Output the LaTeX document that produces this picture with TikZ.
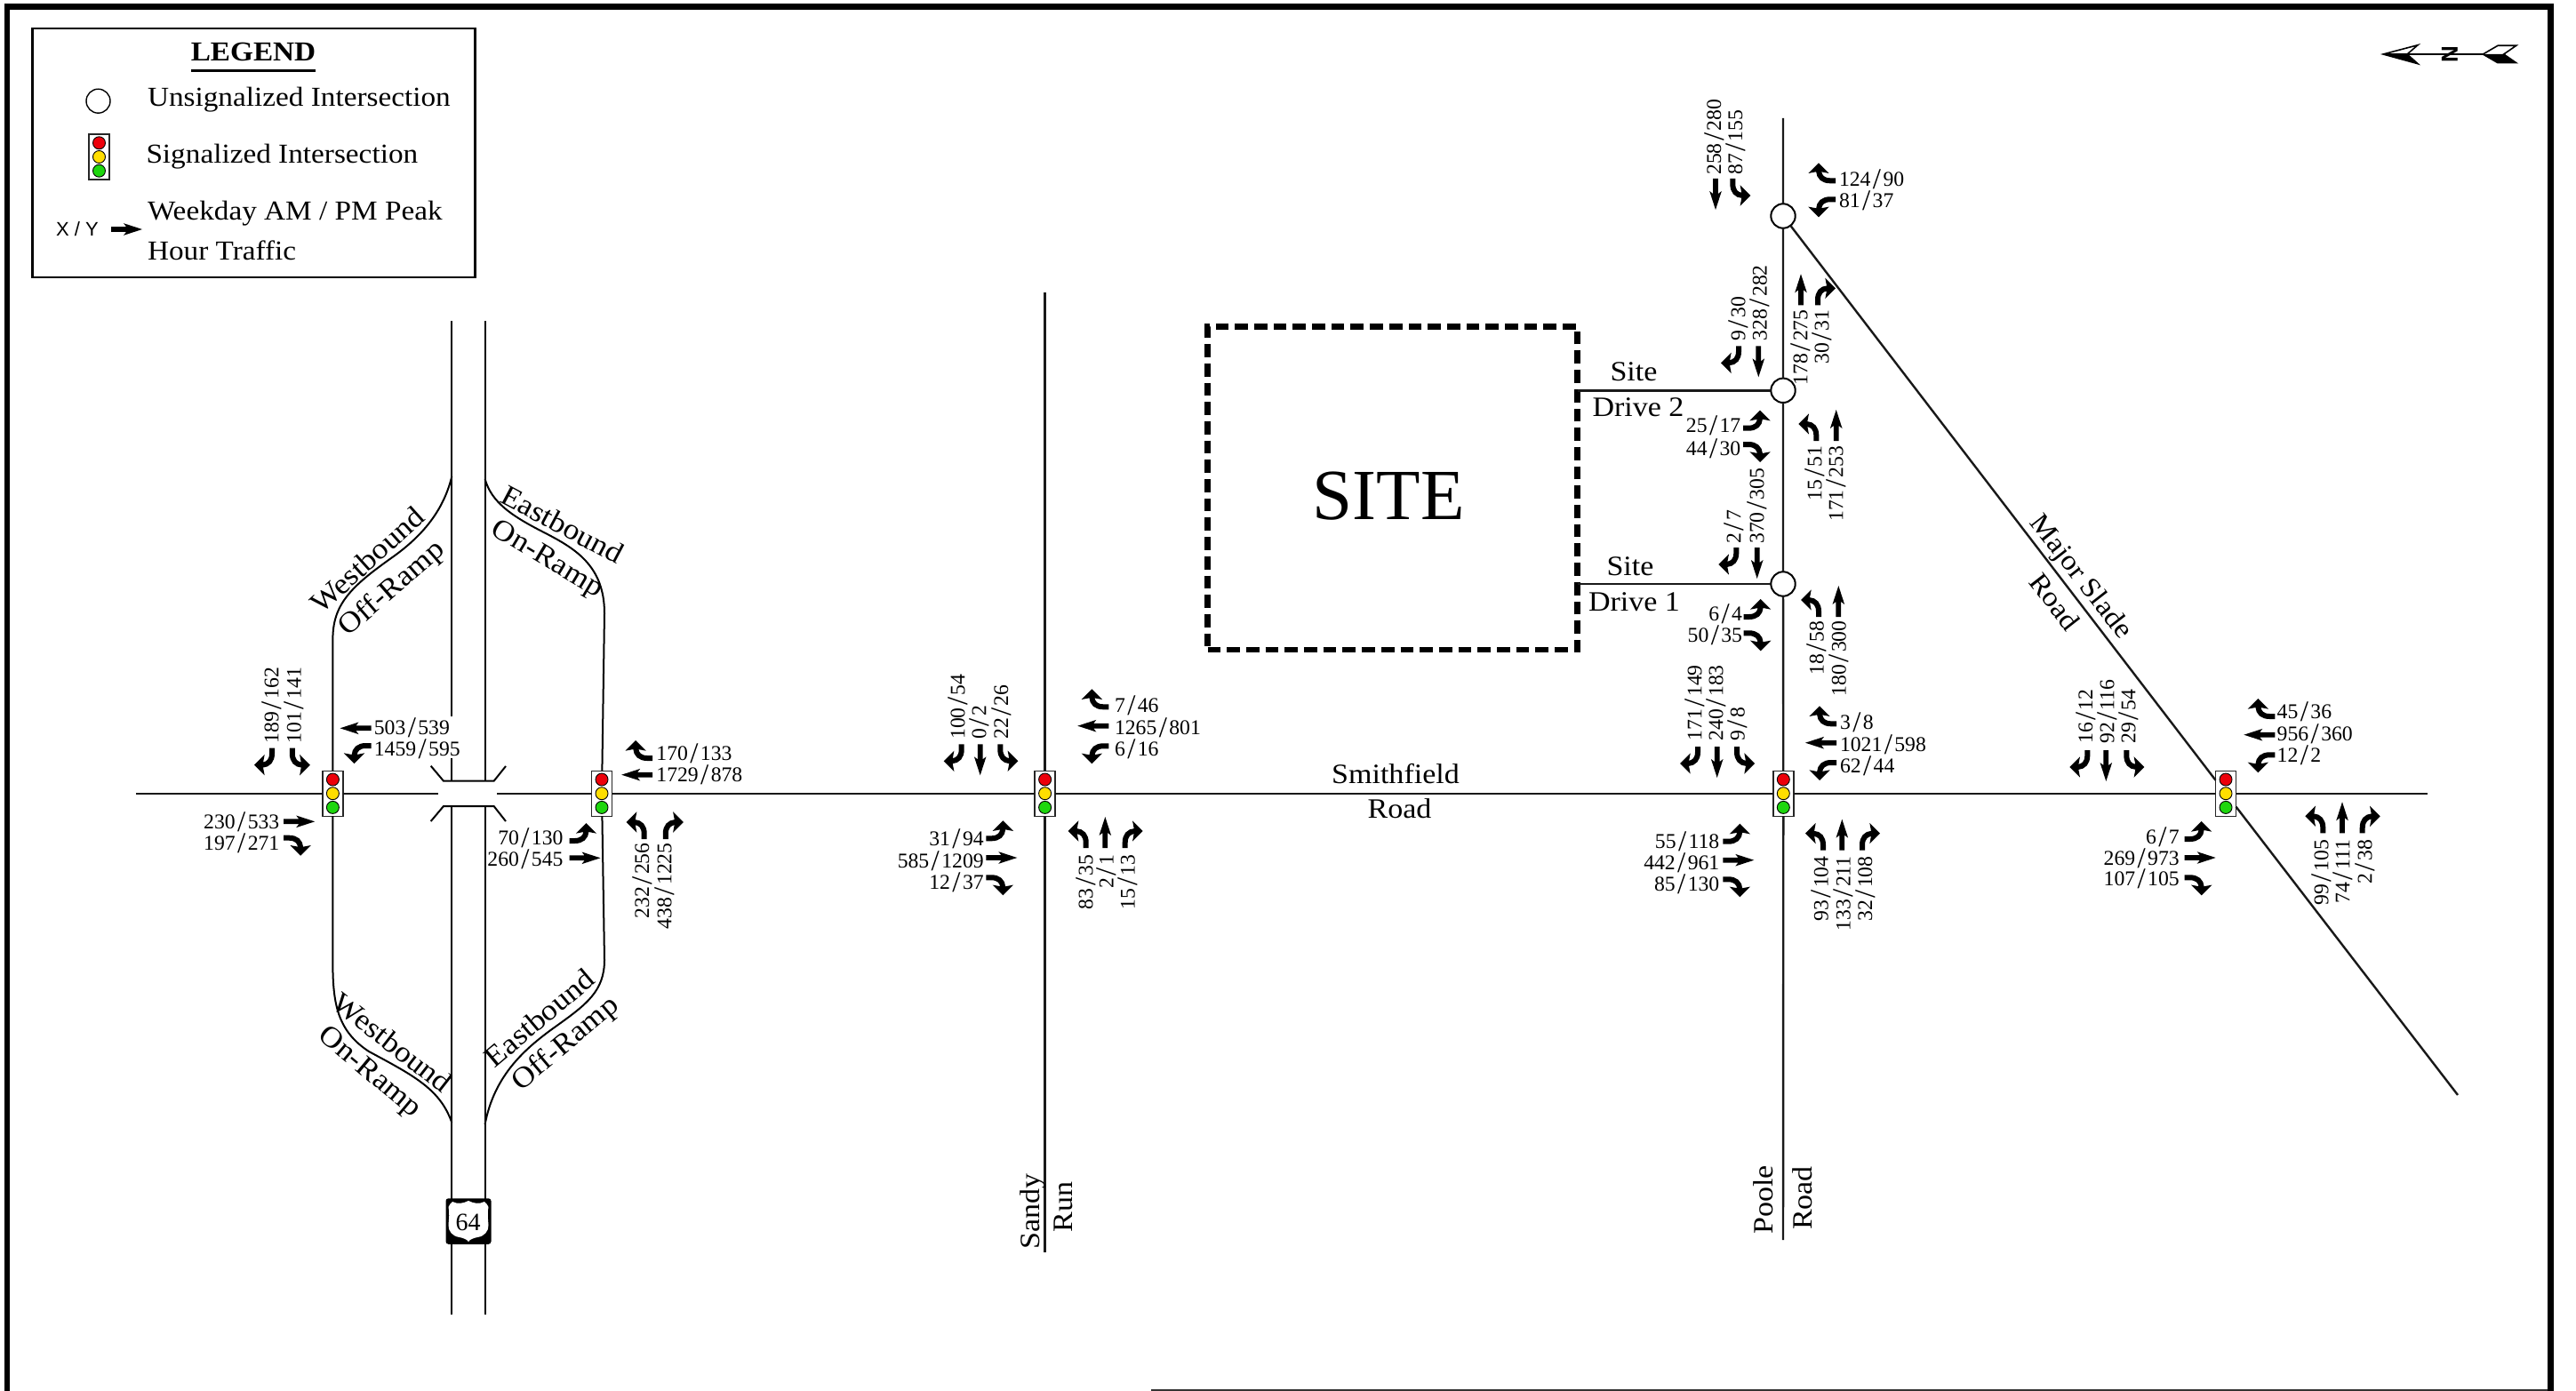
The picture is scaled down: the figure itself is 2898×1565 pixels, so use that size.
\documentclass[tikz,border=0pt]{standalone}
\usepackage{fontspec}
\setmainfont{Liberation Serif}[FakeStretch=1.08]
\newfontfamily\numf{Liberation Serif}
\newfontfamily\sansf{Liberation Sans}
\definecolor{sigred}{RGB}{236,0,10}
\definecolor{sigyel}{RGB}{255,222,0}
\definecolor{siggrn}{RGB}{30,214,14}
\newcounter{lab}
\def\splitq#1/#2\relax{#1\kern2.4pt\raisebox{-3pt}{\fontsize{33}{33}\selectfont /}\kern2.4pt#2}
\tikzset{
  numlab/.style={inner sep=0pt,outer sep=0pt,font=\numf\fontsize{23.7}{26}\selectfont},
  wordlab/.style={inner sep=0pt,outer sep=0pt,font=\fontsize{31.5}{34}\selectfont},
  ramplab/.style={inner sep=0pt,outer sep=0pt,font=\fontsize{33}{36}\selectfont},
  legtext/.style={inner sep=0pt,outer sep=0pt,anchor=base west,font=\fontsize{30.8}{33}\selectfont},
  sigbox/.style={draw=black!85,fill=white,line width=1.4pt,minimum width=23pt,minimum height=51pt,inner sep=0pt,outer sep=0pt},
  lamp/.style={draw=black,line width=0.9pt},
  unsig/.style={circle,draw=black,fill=white,line width=2pt,minimum size=27.4pt,inner sep=0pt,outer sep=0pt},
  road/.style={draw=black!90,line width=2.4pt},
  ramp/.style={draw=black,line width=2pt}
}
% labels (baseline anchored)
\newcommand\LR[3]{\stepcounter{lab}\node[numlab,anchor=base west,name=n\thelab] at (#1,#2) {\splitq#3\relax};}
\newcommand\RR[3]{\stepcounter{lab}\node[numlab,anchor=base east,name=n\thelab] at (#1,#2) {\splitq#3\relax};}
\newcommand\UP[3]{\stepcounter{lab}\node[numlab,rotate=90,anchor=base west,name=n\thelab] at (#1,#2) {\splitq#3\relax};}
\newcommand\DN[3]{\stepcounter{lab}\node[numlab,rotate=90,anchor=base east,name=n\thelab] at (#1,#2) {\splitq#3\relax};}
% movement arrows: tail at (x,y), direction rot (0 north, 90 west, 180 south, -90 east)
\newcommand\ArT[3]{\fill[shift={(#1,#2)},rotate=#3] (-2.9,0) -- (-2.9,-17) -- (-6.8,-14) -- (0,-35) -- (6.8,-14) -- (2.9,-17) -- (2.9,0) -- cycle;}
\newcommand\turnshape{\draw[line width=6pt] (0,0) -- (0,-6) .. controls (0,-14) and (-4,-18.5) .. (-11,-19);
  \fill (-20,-19) -- (-8.3,-30.7) -- (-10.5,-19) -- (-8.3,-7.3) -- cycle;}
\newcommand\ArL[3]{\begin{scope}[shift={(#1,#2)},rotate=#3]\turnshape\end{scope}}
\newcommand\ArR[3]{\begin{scope}[shift={(#1,#2)},rotate=#3,xscale=-1]\turnshape\end{scope}}
\newcommand\Sig[3]{\node[sigbox] (#1) at (#2,#3) {};
  \draw[lamp,fill=sigred] (#2,#3) ++(0,-15.7) circle[radius=7];
  \draw[lamp,fill=sigyel] (#2,#3) circle[radius=7];
  \draw[lamp,fill=siggrn] (#2,#3) ++(0,15.7) circle[radius=7];}
\begin{document}
\begin{tikzpicture}[x=1pt,y=-1pt]
\useasboundingbox (0,0) rectangle (2898,1565);
\fill[white] (0,0) rectangle (2898,1565);
% sheet border
\draw[line width=6.8pt,miter limit=10] (8,1565) -- (8,7.5) -- (2869.5,7.5) -- (2869.5,1565);
\draw[line width=2.5pt,black!80] (1295,1563.8) -- (2866,1563.8);
% legend
\node[draw=black,line width=2.6pt,minimum width=498pt,minimum height=280pt,inner sep=0pt,outer sep=0pt] (legend) at (285.5,172) {};
\node[legtext,anchor=base,font=\bfseries\fontsize{30.8}{33}\selectfont] (legtitle) at (285,69) {LEGEND};
\draw[line width=2.5pt] (215,79.5) -- (355,79.5);
\node[unsig,minimum size=27pt,line width=1.4pt] (legcirc) at (110.5,113.7) {};
\node[legtext] (legu) at (166,120) {Unsignalized Intersection};
\Sig{legsig}{111.5}{176.5}
\node[legtext] (legs) at (164.5,184) {Signalized Intersection};
\node[legtext] (legw) at (166,247) {Weekday AM / PM Peak};
\node[legtext] (legh) at (166,292) {Hour Traffic};
\node[inner sep=0pt,font=\sansf\fontsize{22}{24}\selectfont] (legxy) at (87,258) {X / Y};
\ArT{125}{258}{-90}
% north arrow
\coordinate (nTip) at (2681,61);
\coordinate (nTail) at (2793.3,61);
\draw[line width=1.6pt] (nTip) -- (nTail);
\fill (2681,61) -- (2720,71.7) -- (2708,61) -- cycle;
\draw[line width=1.6pt,line join=miter] (2681,61) -- (2720,50.7) -- (2708,61) -- (2720,71.7) -- cycle;
\fill (2793.3,61) -- (2810,70.7) -- (2830.7,70.7) -- (2816.7,61) -- cycle;
\draw[line width=1.6pt] (2793.3,61) -- (2810,51.3) -- (2830.7,51.3) -- (2816.7,61) -- (2830.7,70.7) -- (2810,70.7) -- cycle;
\node[inner sep=0pt,rotate=90,font=\sansf\bfseries\fontsize{26}{28}\selectfont] (north) at (2756,61) {N};
% signals and unsignalized intersections
\Sig{sA}{374.4}{892.7}
\Sig{sB}{677}{892.7}
\Sig{sC}{1175.6}{892.7}
\Sig{sD}{2006.3}{892.7}
\Sig{sE}{2504}{892.7}
\node[unsig] (c1) at (2006,243) {};
\node[unsig] (c2) at (2006,439.3) {};
\node[unsig] (c3) at (2006,657) {};
% site
\node[draw=black,line width=6.8pt,dash pattern=on 14.7pt off 7pt,minimum width=416pt,minimum height=363.5pt,inner sep=0pt,outer sep=0pt] (site) at (1566.5,549.2) {};
\node[inner sep=0pt,font=\numf\fontsize{81}{90}\selectfont] (sitetxt) at (1562,558) {SITE};
% road ends
\coordinate (smW) at (153,892.7);
\coordinate (brWe) at (492.5,892.7);
\coordinate (brEe) at (559,892.7);
\coordinate (smE) at (2730.5,892.7);
\coordinate (srN) at (1175.6,329);
\coordinate (srS) at (1175.6,1409);
\coordinate (pN) at (2006,133);
\coordinate (pS) at (2006,1395);
\coordinate (msE) at (2765,1232);
\coordinate (fwLt) at (508.3,361);
\coordinate (fwLg) at (508.3,806);
\coordinate (fwLh) at (508.3,853);
\coordinate (fwLb) at (508.3,878.7);
\coordinate (fwLc) at (508.3,907);
\coordinate (fwLe) at (508.3,1479);
\coordinate (fwRt) at (545.6,361);
\coordinate (fwRb) at (545.6,878.7);
\coordinate (fwRc) at (545.6,907);
\coordinate (fwRe) at (545.6,1479);
% roads
\draw[road] (smW) -- (sA) -- (brWe);
\draw[road] (brEe) -- (sB) -- (sC) -- (sD) -- (sE) -- (smE);
\draw[road] (srN) -- (sC) -- (srS);
\draw[road] (pN) -- (c1) -- (c2) -- (c3) -- (sD) -- (pS);
\draw[road] (c1) -- (sE) -- (msE);
\draw[road] (site.east |- c2) -- (c2);
\draw[road] (site.east |- c3) -- (c3);
% freeway and bridge
\draw[ramp] (fwLt) -- (fwLg);
\draw[ramp] (fwLh) -- (fwLb);
\draw[ramp] (fwLc) -- (fwLe);
\draw[ramp] (fwRt) -- (fwRb);
\draw[ramp] (fwRc) -- (fwRe);
\draw[ramp] (484.7,861.7) -- (499,878.7) -- (555.6,878.7) -- (569,862);
\draw[ramp] (484.7,924) -- (499,907) -- (555.6,907) -- (569,924);
% ramps
\draw[ramp] (sA) -- (374.4,720) .. controls (374,680) and (395,660) .. (440,628) .. controls (480,600) and (500,570) .. (508.3,536);
\draw[ramp] (sA) -- (374.4,1080) .. controls (374,1130) and (380,1160) .. (415,1183) .. controls (465,1210) and (495,1225) .. (508.3,1263);
\draw[ramp] (sB) -- (680,690) .. controls (680,635) and (645,616) .. (610,598) .. controls (575,580) and (553,565) .. (545.6,539);
\draw[ramp] (sB) -- (680,1080) .. controls (680,1115) and (660,1130) .. (625,1155) .. controls (590,1180) and (556,1210) .. (545.6,1265);
% shield
\node[fill=black,rounded corners=3pt,minimum width=51pt,minimum height=51.5pt,inner sep=0pt] (shield) at (527,1374) {};
\fill[white] (527,1351) .. controls (521,1354) and (515,1355) .. (509,1352) .. controls (506,1354) and (506,1356) .. (504.5,1358) .. controls (506,1364) and (505,1372) .. (504.5,1378) .. controls (504,1385) and (509,1391) .. (517,1392) .. controls (521,1393) and (525,1394) .. (527,1397) .. controls (529,1394) and (533,1393) .. (537,1392) .. controls (545,1391) and (550,1385) .. (549.5,1378) .. controls (549,1372) and (548,1364) .. (549.5,1358) .. controls (548,1356) and (548,1354) .. (545,1352) .. controls (539,1355) and (533,1354) .. (527,1351) -- cycle;
\node[numlab,font=\numf\fontsize{28}{30}\selectfont] (shield64) at (526.7,1375) {64};
% road names
\node[wordlab,anchor=base] (t1) at (1838,428.3) {Site};
\node[wordlab,anchor=base] (t2) at (1843,468.3) {Drive 2};
\node[wordlab,anchor=base] (t3) at (1834,647.3) {Site};
\node[wordlab,anchor=base] (t4) at (1838.5,687.3) {Drive 1};
\node[wordlab,anchor=base] (t5) at (1570,881.5) {Smithfield};
\node[wordlab,anchor=base] (t6) at (1574.5,920) {Road};
\node[wordlab,anchor=base,rotate=90] (t7) at (1169,1363) {Sandy};
\node[wordlab,anchor=base,rotate=90] (t8) at (1206.7,1358) {Run};
\node[wordlab,anchor=base,rotate=90] (t9) at (1994,1350) {Poole};
\node[wordlab,anchor=base,rotate=90] (t10) at (2038,1348) {Road};
\node[ramplab,rotate=42] (t11) at (413,630) {Westbound};
\node[ramplab,rotate=41] (t12) at (441.7,663) {Off-Ramp};
\node[ramplab,rotate=-28] (t13) at (633,590) {Eastbound};
\node[ramplab,rotate=-31] (t14) at (615,630) {On-Ramp};
\node[ramplab,rotate=-38] (t15) at (441.7,1173) {Westbound};
\node[ramplab,rotate=-40] (t16) at (415,1207) {On-Ramp};
\node[ramplab,rotate=40] (t17) at (606.7,1145) {Eastbound};
\node[ramplab,rotate=40] (t18) at (636.7,1175) {Off-Ramp};
\node[wordlab,rotate=-52] (t19) at (2340,650) {Major Slade};
\node[wordlab,rotate=-52] (t20) at (2311.7,676.7) {Road};
% intersection A
\UP{313.4}{836}{189/162}
\UP{338.7}{836}{101/141}
\ArR{306}{841.7}{180}
\ArL{328.8}{841.7}{180}
\LR{420.8}{826}{503/539}
\ArT{417.5}{819.3}{90}
\LR{420.8}{850}{1459/595}
\ArL{417.5}{839}{90}
\RR{314.3}{932}{230/533}
\ArT{319.2}{924.3}{-90}
\RR{314.3}{956.7}{197/271}
\ArR{319.2}{942.7}{-90}
% intersection B
\LR{738.4}{855.7}{170/133}
\ArR{734.2}{853}{90}
\LR{738.4}{879.3}{1729/878}
\ArT{734.2}{871.7}{90}
\RR{633.5}{950}{70/130}
\ArL{640.5}{946}{-90}
\RR{633.5}{974}{260/545}
\ArT{640.5}{965.3}{-90}
\DN{730}{948.3}{232/256}
\ArL{724.7}{944}{0}
\DN{755.4}{948.3}{438/1225}
\ArR{748.8}{944}{0}
% Sandy Run
\UP{1085.3}{831.7}{100/54}
\UP{1109.3}{831.7}{0/2}
\UP{1134}{831.7}{22/26}
\ArR{1081.7}{837.3}{180}
\ArT{1102.7}{837.3}{180}
\ArL{1125.3}{837.3}{180}
\LR{1254}{801.7}{7/46}
\ArR{1247.3}{795.3}{90}
\LR{1254}{826}{1265/801}
\ArT{1247.3}{816.7}{90}
\LR{1254}{850}{6/16}
\ArL{1247.3}{839.3}{90}
\RR{1106.7}{951.7}{31/94}
\ArL{1109.3}{943.3}{-90}
\RR{1106.7}{976}{585/1209}
\ArT{1109.3}{965}{-90}
\RR{1106.7}{1000}{12/37}
\ArR{1109.3}{987.3}{-90}
\DN{1229.3}{961.7}{83/35}
\ArL{1221.7}{954}{0}
\DN{1252.7}{961.7}{2/1}
\ArT{1243.3}{954}{0}
\DN{1276.7}{961.7}{15/13}
\ArR{1265.7}{954}{0}
% Poole at Smithfield
\UP{1914.3}{833.3}{171/149}
\UP{1938.3}{833.3}{240/183}
\UP{1962.7}{833.3}{9/8}
\ArR{1910}{840}{180}
\ArT{1931.7}{840}{180}
\ArL{1954}{840}{180}
\LR{2070}{820.7}{3/8}
\ArR{2066}{814.3}{90}
\LR{2070}{845}{1021/598}
\ArT{2066}{835.7}{90}
\LR{2070}{869}{62/44}
\ArL{2066}{858}{90}
\RR{1934.3}{954.3}{55/118}
\ArL{1938.3}{946.7}{-90}
\RR{1934.3}{978.3}{442/961}
\ArT{1938.3}{967.7}{-90}
\RR{1934.3}{1002.3}{85/130}
\ArR{1938.3}{989.3}{-90}
\DN{2056.7}{963.3}{93/104}
\ArL{2051}{956.7}{0}
\DN{2081.7}{963.3}{133/211}
\ArT{2072.3}{956.7}{0}
\DN{2106}{963.3}{32/108}
\ArR{2095}{956.7}{0}
% Major Slade
\UP{2354}{836.7}{16/12}
\UP{2378.3}{836.7}{92/116}
\UP{2402.3}{836.7}{29/54}
\ArR{2348.3}{844}{180}
\ArT{2369.3}{844}{180}
\ArL{2392.3}{844}{180}
\LR{2561.7}{808.3}{45/36}
\ArR{2559.3}{806}{90}
\LR{2561.7}{833.3}{956/360}
\ArT{2559.3}{826.7}{90}
\LR{2561.7}{857.3}{12/2}
\ArL{2559.3}{849.3}{90}
\RR{2451.7}{949}{6/7}
\ArL{2457.7}{944}{-90}
\RR{2451.7}{973.3}{269/973}
\ArT{2457.7}{965}{-90}
\RR{2451.7}{996.7}{107/105}
\ArR{2457.7}{987.3}{-90}
\DN{2619.3}{945}{99/105}
\ArL{2613.3}{937.3}{0}
\DN{2643.3}{945}{74/111}
\ArT{2635}{937.3}{0}
\DN{2668.3}{945}{2/38}
\ArR{2657.7}{937.3}{0}
% north leg
\UP{1936}{196.7}{258/280}
\UP{1960}{196.7}{87/155}
\ArT{1930}{201}{180}
\ArL{1949.3}{201}{180}
\LR{2069}{209.3}{124/90}
\ArR{2065}{203.3}{90}
\LR{2069}{233.3}{81/37}
\ArL{2065}{224.3}{90}
\UP{1963.3}{383.3}{9/30}
\UP{1987.7}{383.3}{328/282}
\ArR{1956}{389.3}{180}
\ArT{1978.3}{389.3}{180}
\DN{2033.3}{348.3}{178/275}
\DN{2057.3}{348.3}{30/31}
\ArT{2026}{343.3}{0}
\ArR{2045}{343.3}{0}
% Site Drive 2
\RR{1958.3}{486.7}{25/17}
\ArL{1961}{481.7}{-90}
\RR{1958.3}{512.7}{44/30}
\ArR{1961}{500}{-90}
\DN{2049.3}{501.7}{15/51}
\ArL{2043.3}{496}{0}
\DN{2073.3}{501.7}{171/253}
\ArT{2065.7}{496}{0}
% Site Drive 1
\UP{1958.3}{611.7}{2/7}
\UP{1984.3}{611.7}{370/305}
\ArR{1953.3}{616}{180}
\ArT{1976.7}{616}{180}
\RR{1960}{698.3}{6/4}
\ArL{1961.7}{694}{-90}
\RR{1960}{722.7}{50/35}
\ArR{1961.7}{712.3}{-90}
\DN{2051.7}{698.3}{18/58}
\ArL{2046}{694}{0}
\DN{2076.7}{698.3}{180/300}
\ArT{2068.3}{694}{0}
\end{tikzpicture}
\end{document}
